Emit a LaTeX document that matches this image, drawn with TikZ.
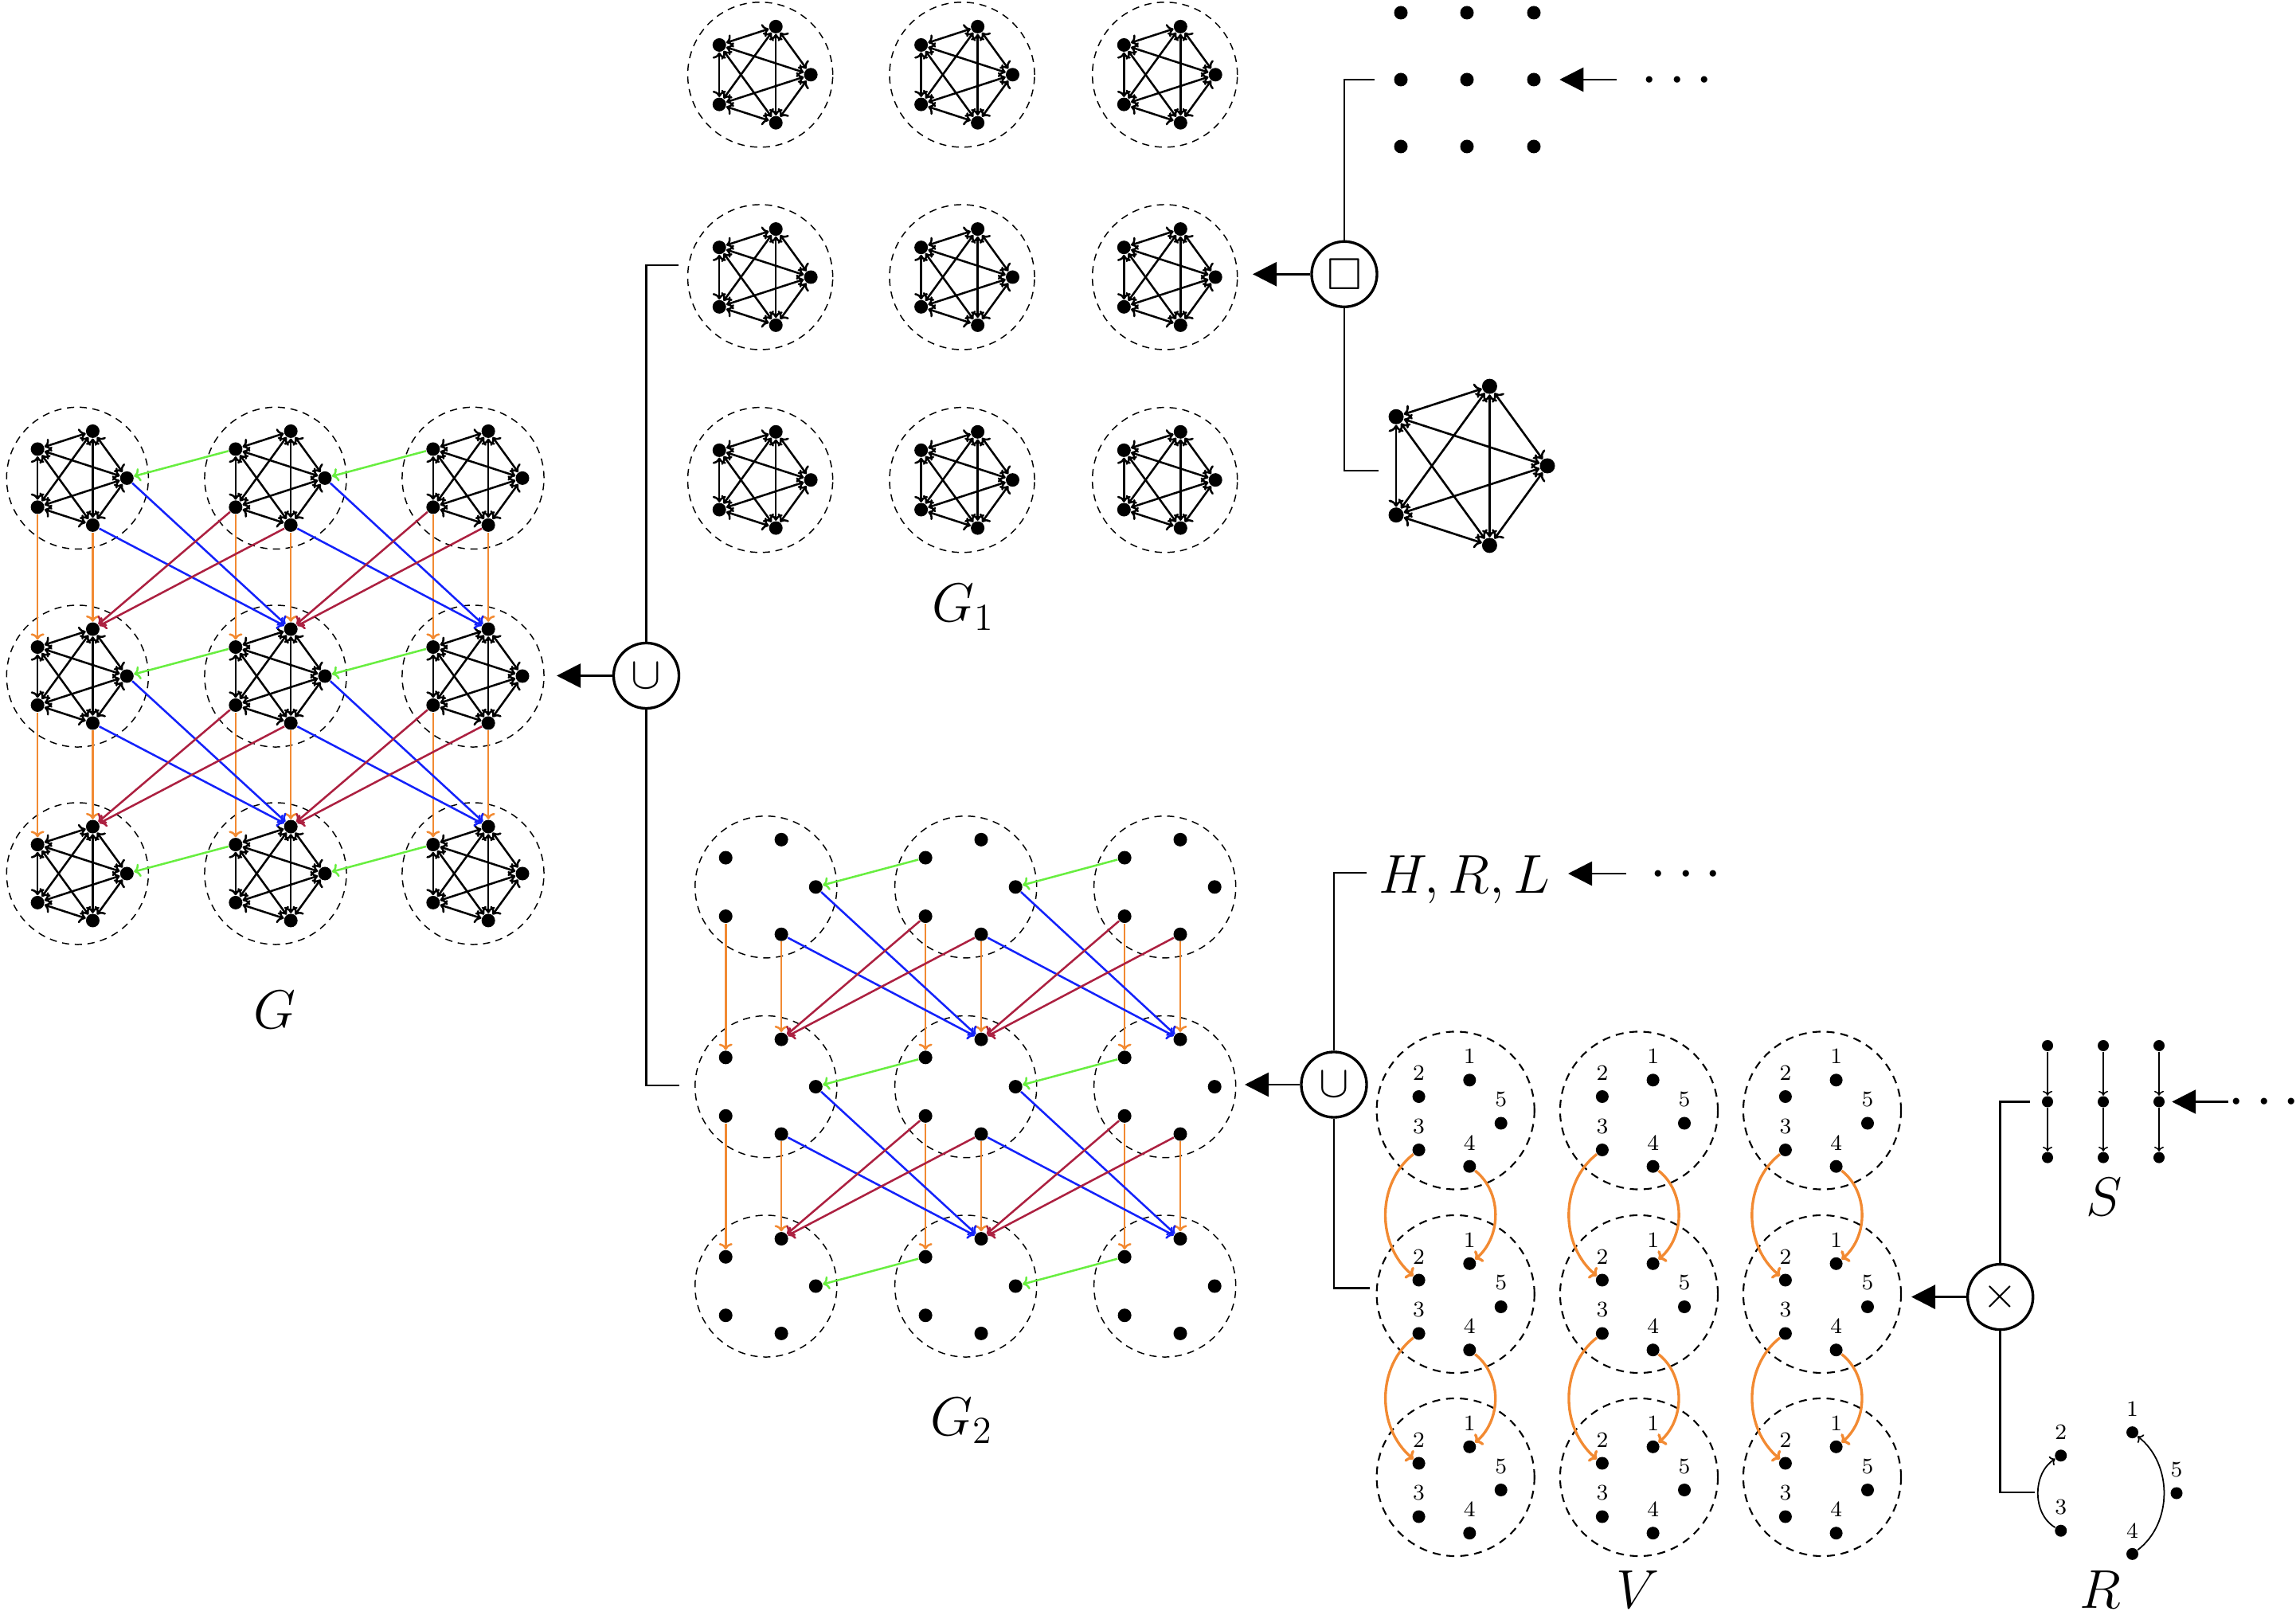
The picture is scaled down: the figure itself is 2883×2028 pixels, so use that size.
\RequirePackage{fix-cm}
\documentclass[tikz,border=0pt]{standalone}
\usepackage{amssymb}
\usepackage{fontspec}
\usetikzlibrary{arrows.meta,calc,bending}
\definecolor{cgreen}{RGB}{104,238,64}
\definecolor{cblue}{RGB}{20,34,250}
\definecolor{cred}{RGB}{172,32,64}
\definecolor{corange}{RGB}{242,138,50}
\tikzset{
  dot/.style={circle,fill=black,inner sep=0pt,minimum size=#1},
  dot/.default=0.17cm,
  ring/.style={circle,draw=black,line width=0.42pt,dash pattern=on 0.09cm off 0.07cm,inner sep=0pt,minimum size=#1},
  vring/.style={circle,draw=black,line width=0.6pt,dash pattern=on 0.1cm off 0.075cm,inner sep=0pt,minimum size=1.98cm},
  kedge/.style={line width=0.72pt,>={To[length=0.08cm,width=0.17cm]},<->},
  bigkedge/.style={line width=0.75pt,>={To[length=0.09cm,width=0.19cm]},<->},
  cedge/.style={line width=0.72pt,draw=#1,>={To[length=0.08cm,width=0.17cm]},->},
  varrow/.style={line width=0.95pt,draw=corange,>={To[length=0.08cm,width=0.18cm,flex]},->},
  thinarrow/.style={line width=0.45pt,>={To[length=0.06cm,width=0.12cm]},->},
  thinbend/.style={line width=0.5pt,>={To[length=0.06cm,width=0.13cm,flex]},->},
  op/.style={circle,draw,line width=0.95pt,inner sep=0pt,minimum size=0.82cm,font=\fontsize{16}{19}\selectfont},
  oparrow/.style={line width=0.8pt,-{Triangle[length=0.3cm,width=0.3cm]}},
  bracket/.style={line width=0.8pt},
  biglbl/.style={inner sep=0pt,anchor=base,font=\fontsize{19.5}{23}\selectfont},
  dotslbl/.style={inner sep=0pt,anchor=base,font=\fontsize{22}{26}\selectfont},
  num/.style={inner sep=0pt,font=\fontsize{7.9}{9}\selectfont},
}
% grid of ringed pentagons: #1 name, #2 x list, #3 y list, #4 ring size, #5 radius
\newcommand\mkpentgrid[5]{%
  \foreach \ri/\yy in {#3}{%
    \foreach \ci/\xx in {#2}{%
      \node[ring=#4] (#1-\ri-\ci) at (\xx,\yy) {};
      \foreach \k/\a in {1/288,2/216,3/144,4/72,5/0}{%
        \node[dot] (#1-\ri-\ci-\k) at ($(\xx,\yy)+(\a:#5)$) {};
      }
    }
  }
}
\newcommand\mkkfive[1]{%
  \foreach \i/\j in {1/2,1/3,1/4,1/5,2/3,2/4,2/5,3/4,3/5,4/5}{%
    \draw[kedge] (#1-\i) -- (#1-\j);
  }
}
\newcommand\mkcolorlinks[1]{%
  \foreach \ri in {1,2,3}{\foreach \ci in {1,2}{%
    \pgfmathtruncatemacro\cnx{\ci+1}%
    \draw[cedge=cgreen] (#1-\ri-\cnx-2) -- (#1-\ri-\ci-5);}}
  \foreach \ri in {1,2}{\foreach \ci in {1,2,3}{%
    \pgfmathtruncatemacro\rnx{\ri+1}%
    \draw[cedge=corange] (#1-\ri-\ci-3) -- (#1-\rnx-\ci-2);
    \draw[cedge=corange] (#1-\ri-\ci-4) -- (#1-\rnx-\ci-1);}}
  \foreach \ri in {1,2}{\foreach \ci in {1,2}{%
    \pgfmathtruncatemacro\rnx{\ri+1}%
    \pgfmathtruncatemacro\cnx{\ci+1}%
    \draw[cedge=cblue] (#1-\ri-\ci-5) -- (#1-\rnx-\cnx-1);
    \draw[cedge=cblue] (#1-\ri-\ci-4) -- (#1-\rnx-\cnx-1);
    \draw[cedge=cred] (#1-\ri-\cnx-3) -- (#1-\rnx-\ci-1);
    \draw[cedge=cred] (#1-\ri-\cnx-4) -- (#1-\rnx-\ci-1);}}
}
\begin{document}
\begin{tikzpicture}[x=0.01cm,y=-0.01cm]
\useasboundingbox (0,0) rectangle (2883,2028);

% ================= G =================
\mkpentgrid{G}{1/97.3,2/346,3/594}{1/600.4,2/849,3/1097}{1.78cm}{62}
\foreach \ri in {1,2,3}{\foreach \ci in {1,2,3}{\mkkfive{G-\ri-\ci}}}
\mkcolorlinks{G}
\node[biglbl] (Glbl) at (345,1292) {$G$};

% ================= G1 =================
\mkpentgrid{H}{1/954.6,2/1208,3/1462.7}{1/93.8,2/348,3/602.7}{1.82cm}{63.5}
\foreach \ri in {1,2,3}{\foreach \ci in {1,2,3}{\mkkfive{H-\ri-\ci}}}
\node[biglbl] (G1lbl) at (1210,781) {$G_1$};

% ================= G2 =================
\mkpentgrid{K}{1/961.8,2/1212.7,3/1462.7}{1/1113.8,2/1364.6,3/1615}{1.78cm}{62.5}
\mkcolorlinks{K}
\node[biglbl] (G2lbl) at (1208,1802) {$G_2$};

% ================= union 1 =================
\node[op] (U1) at (811.5,848.5) {$\cup$};
\coordinate (U1tip) at (699,848.5);
\coordinate (U1top) at (852,333);
\coordinate (U1bot) at (853,1363);
\draw[oparrow] (U1) -- (U1tip);
\draw[bracket] (U1.north) |- (U1top);
\draw[bracket] (U1.south) |- (U1bot);

% ================= box operator =================
\node[op] (B1) at (1688,344.3) {$\square$};
\coordinate (B1tip) at (1573,344.3);
\coordinate (B1top) at (1726,100);
\coordinate (B1bot) at (1731,591);
\draw[oparrow] (B1) -- (B1tip);
\draw[bracket] (B1.north) |- (B1top);
\draw[bracket] (B1.south) |- (B1bot);

% dot grid
\foreach \ri/\yy in {1/16,2/100,3/184}{
  \foreach \ci/\xx in {1/1759,2/1842,3/1926}{
    \node[dot=0.17cm] (D-\ri-\ci) at (\xx,\yy) {};
  }
}
\node[dotslbl] (Ddots) at (2106,119.4) {$\cdots$};
\coordinate (Din) at (2030,100);
\draw[oparrow,shorten >=0.23cm] (Din) -- (D-2-3);

% big pentagon
\foreach \k/\a in {1/288,2/216,3/144,4/72,5/0}{
  \node[dot=0.19cm] (P-\k) at ($(1838,585)+(\a:105)$) {};
}
\foreach \i/\j in {1/2,1/3,1/4,1/5,2/3,2/4,2/5,3/4,3/5,4/5}{
  \draw[bigkedge] (P-\i) -- (P-\j);
}

% ================= union 2 =================
\node[op] (U2) at (1675,1362) {$\cup$};
\coordinate (U2tip) at (1563,1362);
\coordinate (U2top) at (1716,1096);
\coordinate (U2bot) at (1720,1617.5);
\draw[oparrow] (U2) -- (U2tip);
\draw[bracket] (U2.north) |- (U2top);
\draw[bracket] (U2.south) |- (U2bot);

% H, R, L
\node[biglbl] (HRL) at (1839,1122) {$H, R, L$};
\node[dotslbl] (HRLdots) at (2117,1116.4) {$\cdots$};
\coordinate (HRLin) at (2042,1097);
\coordinate (HRLtip) at (1969,1097);
\draw[oparrow] (HRLin) -- (HRLtip);

% ================= V =================
\foreach \ri/\yy in {1/1394.5,2/1625,3/1855}{
  \foreach \ci/\xx in {1/1827.7,2/2058,3/2288}{
    \node[vring] (V-\ri-\ci) at (\xx,\yy) {};
    \foreach \k/\a in {1/288,2/216,3/144,4/72,5/0}{
      \node[dot=0.16cm,label={[num,label distance=0.11cm]above:\k}] (V-\ri-\ci-\k) at ($(\xx,\yy+16)+(\a:57)$) {};
    }
  }
}
\foreach \ci in {1,2,3}{
  \foreach \ri/\rnx in {1/2,2/3}{
    \draw[varrow] (V-\ri-\ci-3) to[bend right=52] (V-\rnx-\ci-2);
    \draw[varrow] (V-\ri-\ci-4) to[bend left=52] (V-\rnx-\ci-1);
  }
}
\node[biglbl] (Vlbl) at (2057,2019) {$V$};

% ================= times =================
\node[op] (X1) at (2511.7,1628.6) {$\times$};
\coordinate (X1tip) at (2400,1628.6);
\coordinate (X1top) at (2549,1383.5);
\coordinate (X1bot) at (2555,1874);
\draw[oparrow] (X1) -- (X1tip);
\draw[bracket] (X1.north) |- (X1top);
\draw[bracket] (X1.south) |- (X1bot);

% S
\foreach \ri/\yy in {1/1313,2/1383.5,3/1453.6}{
  \foreach \ci/\xx in {1/2571,2/2641,3/2711}{
    \node[dot=0.14cm] (S-\ri-\ci) at (\xx,\yy) {};
  }
}
\foreach \ci in {1,2,3}{
  \draw[thinarrow] (S-1-\ci) -- (S-2-\ci);
  \draw[thinarrow] (S-2-\ci) -- (S-3-\ci);
}
\node[biglbl] (Slbl) at (2642.5,1527) {$S$};
\node[dotslbl] (Sdots) at (2843,1402.9) {$\cdots$};
\coordinate (Sin) at (2798,1383.5);
\draw[oparrow,shorten >=0.085cm] (Sin) -- (S-2-3);

% R
\foreach \k/\a in {1/288,2/216,3/144,4/72,5/0}{
  \node[dot=0.15cm,label={[num,label distance=0.11cm]above:\k}] (R-\k) at ($(2652.7,1875)+(\a:80.3)$) {};
}
\draw[thinbend] (R-3) to[bend left=60] (R-2);
\draw[thinbend] (R-4) to[bend right=53] (R-1);
\node[biglbl] (Rlbl) at (2637.5,2019) {$R$};

\end{tikzpicture}
\end{document}
